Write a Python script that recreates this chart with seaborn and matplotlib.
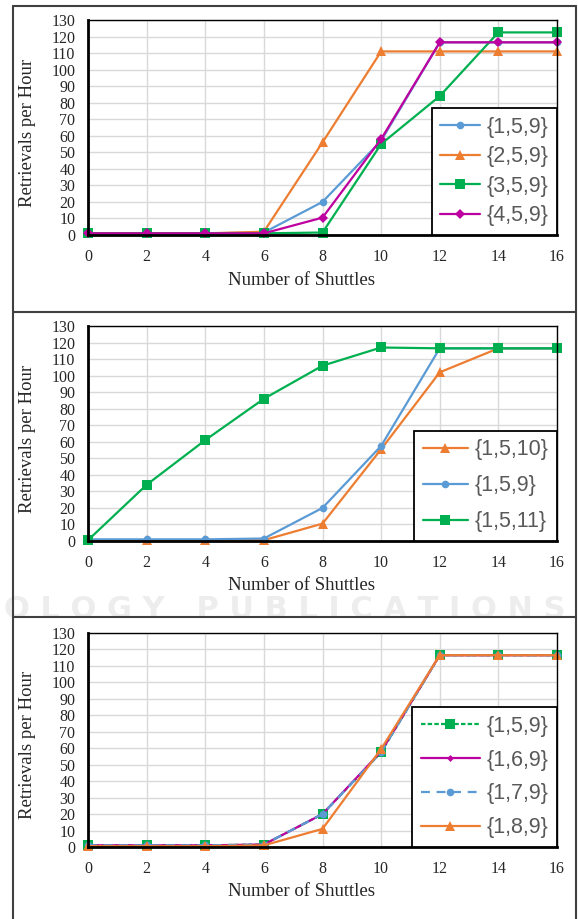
import matplotlib
matplotlib.use('Agg')
import matplotlib.pyplot as plt
import seaborn as sns
from matplotlib.lines import Line2D

sns.set_style('white')
plt.rcParams['font.family'] = ['Liberation Serif', 'DejaVu Serif']

# data
shuttles = [0, 2, 4, 6, 8, 10, 12, 14, 16]

# panel 1
p1_labels = ['{1,5,9}', '{2,5,9}', '{3,5,9}', '{4,5,9}']
p1_159 = [1, 1, 1, 1.5, 20, 57, 116.5, 116.5, 116.5]
p1_259 = [1, 1, 1, 2, 56, 111, 111, 111, 111]
p1_359 = [1, 1, 1, 1, 1.5, 55, 84, 122.5, 122.5]
p1_459 = [1, 1, 1, 1, 10.5, 58, 116.5, 116.5, 116.5]

# panel 2
p2_labels = ['{1,5,10}', '{1,5,9}', '{1,5,11}']
p2_1510 = [0.5, 0.5, 0.5, 0.5, 10.5, 55.5, 102, 116.5, 116.5]
p2_159 = [1, 1, 1, 1.5, 20, 57.5, 116.5, 116.5, 116.5]
p2_1511 = [0.5, 34, 61, 86, 106, 117, 116.5, 116.5, 116.5]

# panel 3
p3_labels = ['{1,5,9}', '{1,6,9}', '{1,7,9}', '{1,8,9}']
p3_159 = [1, 1, 1, 1.5, 20, 57.5, 116.5, 116.5, 116.5]
p3_169 = [1, 1, 1, 1.5, 20, 58, 116.5, 116.5, 116.5]
p3_179 = [1, 1, 1, 1.5, 20, 57.5, 116.5, 116.5, 116.5]
p3_189 = [0.5, 0.5, 0.5, 1, 11, 59.5, 116.5, 116.5, 116.5]

blue = '#5B9BD5'
orange = '#ED7D31'
green = '#00B050'
purple = '#BF00A0'

W, H = 578, 919
fig = plt.figure(figsize=(W / 100, H / 100), dpi=100)
fig.patch.set_facecolor('white')


def add_ax(left, top, right, bottom):
    return fig.add_axes([left / W, 1 - bottom / H, (right - left) / W, (bottom - top) / H])


# faint publisher watermark strip
fig.text(285 / W, 1 - 610 / H, 'O L O G Y   P U B L I C A T I O N S', fontsize=22,
         weight='bold', color='#ededed', family='DejaVu Sans', ha='center', va='center',
         zorder=-5)

# panel frames
frame = '#404040'
for y in [6, 312, 617]:
    fig.add_artist(Line2D([13 / W, 576 / W], [1 - y / H, 1 - y / H], color=frame, lw=1.5))
for x in [13, 576]:
    fig.add_artist(Line2D([x / W, x / W], [1 - 6 / H, 0], color=frame, lw=1.5))

# (top, bottom, series, legend handle length, legend label spacing)
panels = [
    (20, 235, [
        (p1_labels[0], p1_159, blue, 'o', 5.5, '-'),
        (p1_labels[1], p1_259, orange, '^', 7.5, '-'),
        (p1_labels[2], p1_359, green, 's', 6.5, '-'),
        (p1_labels[3], p1_459, purple, 'D', 5.5, '-'),
    ], 1.85, 0.4),
    (326, 541, [
        (p2_labels[0], p2_1510, orange, '^', 7.5, '-'),
        (p2_labels[1], p2_159, blue, 'o', 5.5, '-'),
        (p2_labels[2], p2_1511, green, 's', 6.5, '-'),
    ], 2.1, 0.7),
    (633, 847, [
        (p3_labels[0], p3_159, green, 's', 6.5, (0, (2, 1))),
        (p3_labels[1], p3_169, purple, 'D', 3.5, '-'),
        (p3_labels[2], p3_179, blue, 'o', 5.5, (0, (4, 3))),
        (p3_labels[3], p3_189, orange, '^', 6.5, '-'),
    ], 2.75, 0.6),
]

for top, bottom, series, hlen, lspace in panels:
    ax = add_ax(88, top, 557, bottom)
    ax.set_facecolor('none')
    for label, vals, col, mk, ms, ls in series:
        sns.lineplot(x=shuttles, y=vals, ax=ax, color=col, marker=mk, markersize=ms,
                     markeredgewidth=0, linestyle=ls, linewidth=1.6, label=label)
    ax.set_xlim(0, 16)
    ax.set_ylim(0, 130)
    ax.set_xticks(range(0, 17, 2))
    ax.set_yticks(range(0, 131, 10))
    ax.grid(True, color='#d9d9d9', lw=1)
    ax.set_axisbelow(True)
    for s in ax.spines:
        ax.spines[s].set_visible(True)
        ax.spines[s].set_color('black')
    ax.spines['left'].set_linewidth(2)
    ax.spines['bottom'].set_linewidth(2)
    ax.spines['top'].set_linewidth(1)
    ax.spines['right'].set_linewidth(1)
    ax.tick_params(axis='x', direction='in', length=4, width=1, pad=10, labelsize=11.5)
    ax.tick_params(axis='y', direction='in', length=0, pad=9, labelsize=11.5)
    for ln in ax.lines:
        ln.set_clip_on(False)
    ax.set_xlabel('')
    ax.set_ylabel('')
    leg = ax.legend(loc='lower right', bbox_to_anchor=(1, 0), borderaxespad=0,
                    frameon=True, fancybox=False, edgecolor='black', framealpha=1,
                    prop={'family': 'Liberation Sans', 'size': 15.5}, labelcolor='#595959',
                    handlelength=hlen, handletextpad=0.3, labelspacing=lspace, borderpad=0.4)
    leg.get_frame().set_linewidth(1.3)
    fig.text(28 / W, 1 - ((top + bottom) / 2 + 5) / H, 'Retrievals per Hour', rotation=90,
             fontsize=13.5, ha='center', va='center')
    fig.text(302 / W, 1 - (bottom + 45) / H, 'Number of Shuttles', fontsize=13.5,
             ha='center', va='center')

fig.savefig('out.png', dpi=100)
